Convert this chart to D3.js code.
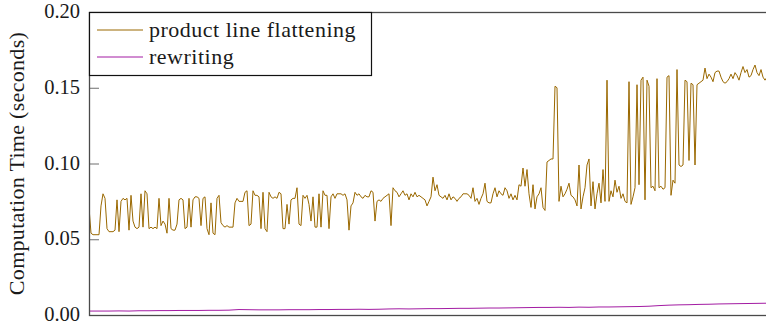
<!DOCTYPE html>
<html>
<head>
<meta charset="utf-8">
<script src="https://cdn.jsdelivr.net/npm/d3@7/dist/d3.min.js"></script>
<style>
  html, body { margin: 0; padding: 0; background: #fff; }
  svg text { font-family: "Liberation Serif", "Times New Roman", serif; fill: #1a1a1a; }
</style>
</head>
<body>
<svg id="chart" width="766" height="325"></svg>
<script>
// y axis ticks (seconds)
const yTicks = [0, 0.05, 0.10, 0.15, 0.20]
const seriesNames = ['product line flattening', 'rewriting']
const seriesColors = ['#9a6800', '#a31ba3']

// computation time per run, in milliseconds
const flatteningMs = [
  71,54,53,53,53,53,72,80,77,57, 55,55,55,56,76,55,75,77,76,77,
  56,79,62,58,57,58,80,58,82,80, 57,58,57,58,57,77,59,62,60,54,
  77,57,56,56,60,76,77,76,57,58, 77,58,76,78,78,77,59,77,
  78,57,53,74,54,53,77,79,61,59, 58,59,58,58,58,74,77,75,75,75,
  81,82,59,60,82,79,79,78,57,81, 57,55,81,78,77,78,77,81,80,57,
  57,73,60,76,77,77,84,60,59,79, 77,79,73,62,78,58,
  58,80,58,82,79,79,57,78,80,77, 80,80,80,79,80,76,56,72,74,81,
  79,80,78,77,79,78,78,82,81,62, 75,76,75,77,78,79,80,59,84,82,
  81,78,80,82,79,80,76,80,78,81, 78,79,78,77,76,72,
  75,78,91,82,86,79,78,77,79,76, 80,76,78,77,75,77,78,80,80,80,
  79,77,84,75,77,73,77,80,87,75, 74,74,80,84,78,82,80,79,84,82,
  77,80,76,79,76,86,85,97,85,96, 80,71,86,70,78,
  80,84,71,69,101,102,103,103,151,150, 75,85,78,80,83,87,79,78,76,72,
  99,70,78,84,99,103,72,88,70,80, 87,74,96,75,155,75,82,78,89,81,
  85,77,80,75,74,154,73,78,84,152, 86,155,157,76,155,
  151,84,85,82,156,84,85,83,84,157, 158,79,89,87,162,99,98,99,155,154,
  102,153,152,99,152,153,154,155,163,156, 159,157,154,160,161,161,157,154,153,154,
  156,159,156,160,158,155,160,164,160,162, 157,158,162,165,160,158,162,157,155,157
]
const rewritingMs = [
  2.6,2.6,2.6,2.7,2.6,2.8,2.8,2.9,2.9,3.0, 3.0,3.0,3.1,3.1,3.2,3.6,3.5,3.4,3.4,3.4,
  3.5,3.5,3.5,3.6,3.6,3.7,3.7,3.8,3.7,3.8, 4.0,4.1,4.0,4.1,4.2,4.2,4.3,4.4,4.4,4.5,
  4.6,4.6,4.7,4.8,4.9,5.0,5.0,5.1,5.0,5.2, 5.1,5.3,5.3,5.4,5.5,5.6,5.8,6.2,6.5,6.7,
  6.8,7.0,7.1,7.3,7.4,7.5,7.6,7.7,7.8
]

const margin = { left: 89, top: 12, right: 767, bottom: 315 }
const svg = d3.select('#chart')

const x = d3.scaleLinear().domain([0, flatteningMs.length - 1]).range([margin.left, margin.right])
const xr = d3.scaleLinear().domain([0, rewritingMs.length - 1]).range([margin.left, 769])
const y = d3.scaleLinear().domain([0, 0.2]).range([margin.bottom, margin.top])

svg.append('clipPath').attr('id', 'plot-clip')
  .append('rect')
  .attr('x', margin.left).attr('y', margin.top)
  .attr('width', 800).attr('height', margin.bottom - margin.top)

const lines = svg.append('g').attr('clip-path', 'url(#plot-clip)')

const lineFlat = d3.line().x((d, i) => x(i)).y(d => y(d / 1000))
const lineRew = d3.line().x((d, i) => xr(i)).y(d => y(d / 1000))

lines.append('path').datum(rewritingMs)
  .attr('d', lineRew).attr('fill', 'none')
  .attr('stroke', seriesColors[1]).attr('stroke-width', 1)
lines.append('path').datum(flatteningMs)
  .attr('d', lineFlat).attr('fill', 'none')
  .attr('stroke', seriesColors[0]).attr('stroke-width', 1)
  .attr('stroke-linejoin', 'round')

// y axis, ticks pointing inward
const yAxis = svg.append('g').attr('transform', `translate(${margin.left},0)`)
  .call(d3.axisLeft(y).tickValues(yTicks).tickFormat(d3.format('.2f'))
    .tickSizeInner(-10).tickSizeOuter(0).tickPadding(9))
yAxis.select('.domain').remove()
yAxis.selectAll('.tick line').attr('stroke', '#6e6e6e').attr('stroke-width', 1)
yAxis.selectAll('.tick text')
  .attr('font-size', 20.5).attr('dy', '0.27em')
  .style('font-family', '"Liberation Serif", serif').attr('fill', '#1a1a1a')

// frame
svg.append('rect')
  .attr('x', margin.left + 0.5).attr('y', margin.top + 0.5)
  .attr('width', 800).attr('height', margin.bottom - margin.top)
  .attr('fill', 'none').attr('stroke', '#4a4a4a').attr('stroke-width', 1.3)

// axis title
svg.append('text')
  .attr('transform', `translate(24, ${(margin.top + margin.bottom) / 2}) rotate(-90)`)
  .attr('text-anchor', 'middle')
  .attr('font-size', 22)
  .attr('letter-spacing', 0.3)
  .text('Computation Time (seconds)')

// legend
const legend = svg.append('g')
legend.append('rect')
  .attr('x', margin.left + 0.5).attr('y', margin.top + 0.5)
  .attr('width', 282).attr('height', 63)
  .attr('fill', '#fff').attr('stroke', '#111').attr('stroke-width', 1.2)
seriesNames.forEach((name, i) => {
  const ly = 30 + i * 27
  legend.append('line')
    .attr('x1', 97).attr('x2', 143).attr('y1', ly).attr('y2', ly)
    .attr('stroke', seriesColors[i]).attr('stroke-width', 1)
  legend.append('text')
    .attr('x', 149).attr('y', ly).attr('dy', '0.3em')
    .attr('font-size', 22)
    .attr('letter-spacing', 0.5)
    .text(name)
})
</script>
</body>
</html>
